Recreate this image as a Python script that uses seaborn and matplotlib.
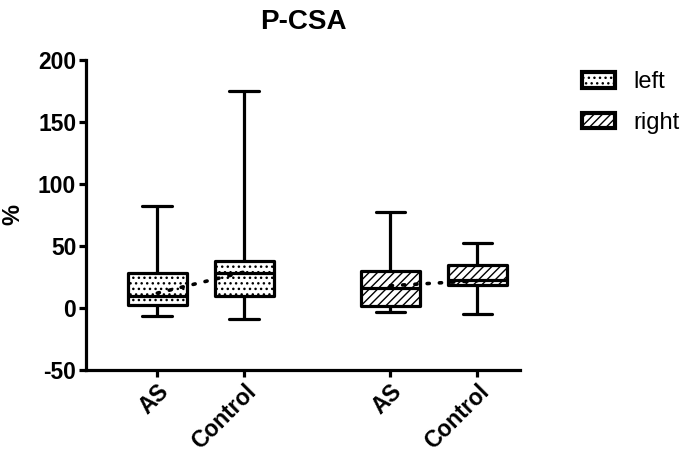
import pandas as pd
import matplotlib
matplotlib.use("Agg")
import matplotlib.pyplot as plt
import matplotlib.patches as mpatches
import seaborn as sns

# Box summaries (min, Q1, median, Q3, max) + means
groups = ["AS", "Control", "AS", "Control"]
sides = ["left", "left", "right", "right"]
whisker_low = [-6.5, -9, -3, -5]
q1 = [2.5, 10, 2, 18.5]
median = [10, 28, 16, 22.5]
q3 = [28, 38, 30, 35]
whisker_high = [82, 175, 77.5, 52.5]
means = [12, 29, 18, 22]
y_ticks = [-50, 0, 50, 100, 150, 200]

sns.set_style("ticks")
plt.rcParams["font.family"] = ["Liberation Sans", "DejaVu Sans"]
plt.rcParams["axes.unicode_minus"] = False
plt.rcParams["hatch.linewidth"] = 1.0
for k in ["text.color", "axes.labelcolor", "xtick.color", "ytick.color", "axes.edgecolor"]:
    plt.rcParams[k] = "black"

# x layout: two pairs, with a wider gap between them
gap = 1.68
pos = [0, 1, 1 + gap, 2 + gap]

rows = []
for i in range(len(groups)):
    for v in [whisker_low[i], q1[i], median[i], q3[i], whisker_high[i]]:
        rows.append({"pos": pos[i], "value": v, "side": sides[i]})
df = pd.DataFrame(rows)

fig = plt.figure(figsize=(6.85, 4.54), dpi=100)
ax = fig.add_axes([0.1255, 0.185, 0.759 - 0.1255, 0.868 - 0.185])

lw = 2.3
sns.boxplot(data=df, x="pos", y="value", native_scale=True, whis=(0, 100),
            width=0.68, color="white", linecolor="black", linewidth=lw,
            fliersize=0, ax=ax)

hatches = {"left": "...", "right": "////"}
for patch, s in zip(ax.patches, sides):
    patch.set_facecolor("white")
    patch.set_hatch(hatches[s])
    patch.set_edgecolor("black")
    patch.set_joinstyle("round")

# dotted lines joining the means of each side
for s in ["left", "right"]:
    idx = [i for i in range(len(sides)) if sides[i] == s]
    sns.lineplot(x=[pos[i] for i in idx], y=[means[i] for i in idx],
                 color="black", linewidth=2.6, linestyle=(0, (0.6, 2.8)),
                 dash_capstyle="round", ax=ax, zorder=5)

ax.set_xlim(-0.82, 2 + gap + 0.49)
ax.set_ylim(-50, 200)
ax.set_yticks(y_ticks)
ax.set_xticks(pos)
ax.set_xticklabels(groups, rotation=45, ha="right", rotation_mode="anchor",
                   fontsize=16.5, fontweight="bold")
for lab in ax.get_yticklabels():
    lab.set_fontsize(16.5)
    lab.set_fontweight("bold")
ax.set_xlabel("")
ax.set_ylabel("%", fontsize=17, fontweight="bold", labelpad=10)
ax.set_title("P-CSA", fontsize=20, fontweight="bold", pad=22)

for sp in ["top", "right"]:
    ax.spines[sp].set_visible(False)
for sp in ["left", "bottom"]:
    ax.spines[sp].set_linewidth(2.3)
ax.tick_params(width=2.3, length=5, pad=2, color="black")

handles = [mpatches.Patch(facecolor="white", edgecolor="black", linewidth=3.0,
                          hatch=hatches[s], label=s) for s in ["left", "right"]]
leg = fig.legend(handles=handles, loc="upper left", bbox_to_anchor=(0.85, 0.843),
                 frameon=False, fontsize=17, handlelength=1.4, handleheight=0.62,
                 labelspacing=0.78, handletextpad=0.75, borderpad=0,
                 borderaxespad=0)

fig.savefig("out.png", dpi=100)
